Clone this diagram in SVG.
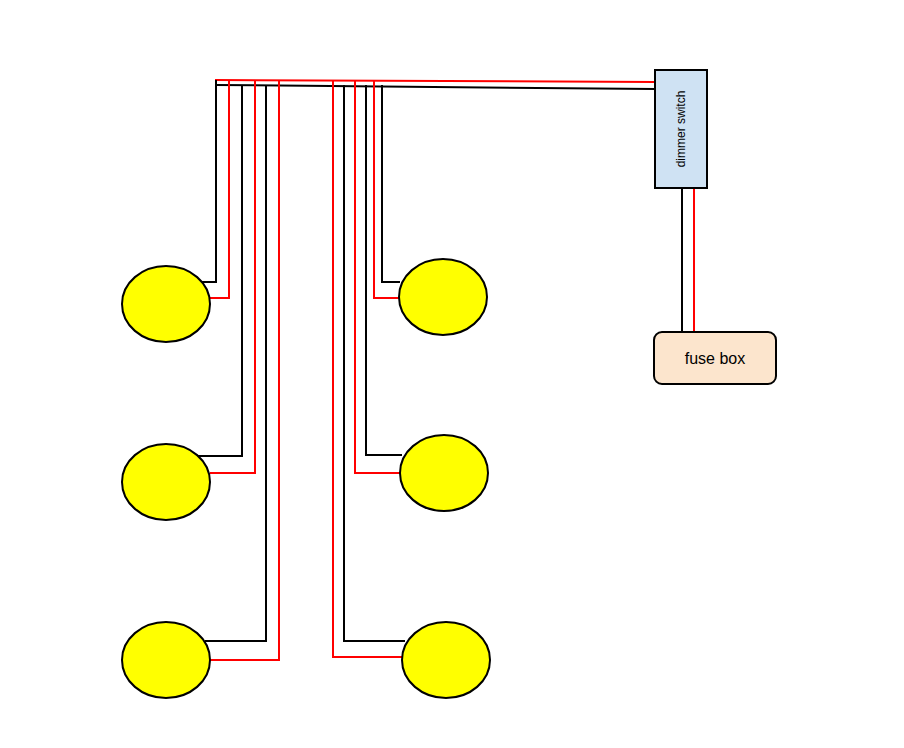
<svg xmlns="http://www.w3.org/2000/svg" width="904" height="748" viewBox="0 0 904 748">
<style>
.k{stroke:#000;stroke-width:2;fill:none}
.r{stroke:#f00;stroke-width:2;fill:none}
.lamp{fill:#ff0;stroke:#000;stroke-width:2}
text{font-family:"Liberation Sans",Arial,sans-serif;fill:#000}
</style>
<rect width="904" height="748" fill="#fff"/>
<g id="connectors">
<polyline class="r" points="655,82 215,80"/>
<polyline class="k" points="655,89 215,85"/>
<polyline class="k" points="200,282 216,282 216,80"/>
<polyline class="r" points="210,298 229,298 229,81"/>
<polyline class="k" points="198,456 242,456 242,85"/>
<polyline class="r" points="210,473 255,473 255,81"/>
<polyline class="k" points="205,641 266,641 266,85"/>
<polyline class="r" points="210,660 279,660 279,81"/>
<polyline class="k" points="400,282 382,282 382,85"/>
<polyline class="r" points="400,298 374,298 374,81"/>
<polyline class="k" points="402,455 366,455 366,85"/>
<polyline class="r" points="402,473 355,473 355,81"/>
<polyline class="k" points="405,641 344,641 344,85"/>
<polyline class="r" points="404,657 333,657 333,81"/>
<line class="k" x1="682" y1="188" x2="682" y2="332"/>
<line class="r" x1="694" y1="188" x2="694" y2="332"/>
</g>
<g id="lamp1"><ellipse class="lamp" cx="166" cy="304" rx="44" ry="38"/></g>
<g id="lamp2"><ellipse class="lamp" cx="166" cy="482" rx="44" ry="38"/></g>
<g id="lamp3"><ellipse class="lamp" cx="166" cy="660" rx="44" ry="38"/></g>
<g id="lamp4"><ellipse class="lamp" cx="443" cy="297" rx="44" ry="38"/></g>
<g id="lamp5"><ellipse class="lamp" cx="444" cy="473" rx="44" ry="38"/></g>
<g id="lamp6"><ellipse class="lamp" cx="446" cy="660" rx="44" ry="38"/></g>
<g id="dimmer">
<rect x="655" y="70" width="52" height="118" fill="#cfe2f3" stroke="#000" stroke-width="2"/>
<text x="0" y="0" font-size="12" text-anchor="middle" transform="translate(685,129) rotate(-90)">dimmer switch</text>
</g>
<g id="fusebox">
<rect x="654" y="332" width="122" height="52" rx="8" fill="#fce5cd" stroke="#000" stroke-width="2"/>
<text x="715" y="364" font-size="16" text-anchor="middle">fuse box</text>
</g>
</svg>
